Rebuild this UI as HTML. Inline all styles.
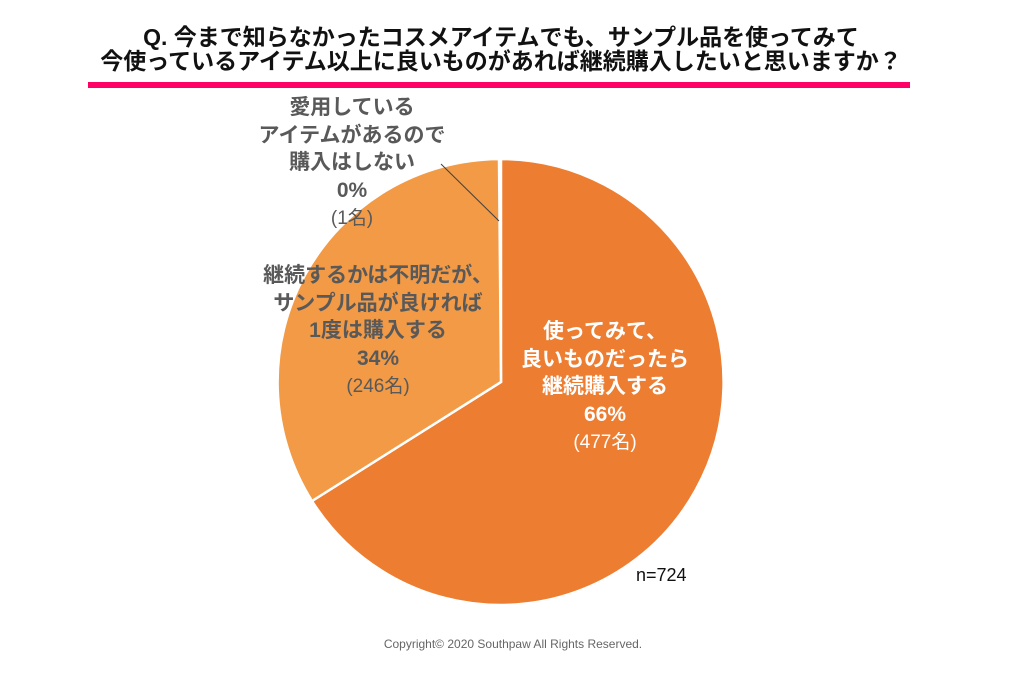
<!DOCTYPE html>
<html><head><meta charset="utf-8"><style>
body{margin:0;width:1013px;height:684px;background:#fff;overflow:hidden;font-family:"Liberation Sans","Noto Sans CJK JP",sans-serif;}
.t{position:absolute;left:0;width:1002px;text-align:center;font-weight:bold;font-size:23px;line-height:24px;color:#111;}
.l{position:absolute;text-align:center;font-weight:bold;font-size:21px;line-height:27.5px;color:#595959;white-space:nowrap;}
.s{font-weight:normal;font-size:19px;}
</style></head><body>
<div class="t" style="top:25px">Q. 今まで知らなかったコスメアイテムでも、サンプル品を使ってみて</div>
<div class="t" style="top:49px">今使っているアイテム以上に良いものがあれば継続購入したいと思いますか？</div>
<div style="position:absolute;left:88px;top:82px;width:822px;height:6px;background:#FF0066"></div>
<svg width="1013" height="684" style="position:absolute;left:0;top:0">
<path d="M501,382 L501,159 A223,223 0 1 1 312,501 Z" fill="#ED7D31" stroke="#fff" stroke-width="2.5"/>
<path d="M501,382 L312,501 A223,223 0 0 1 499,159 Z" fill="#F29A46" stroke="#fff" stroke-width="2.5"/>
<line x1="441" y1="164" x2="499" y2="221" stroke="#404040" stroke-width="1"/>
</svg>
<div class="l" style="left:202px;top:94px;width:300px">愛用している<br>アイテムがあるので<br>購入はしない<br>0%<br><span class="s">(1名)</span></div>
<div class="l" style="left:228px;top:262px;width:300px">継続するかは不明だが、<br>サンプル品が良ければ<br>1度は購入する<br>34%<br><span class="s">(246名)</span></div>
<div class="l" style="left:455px;top:318px;width:300px;color:#fff">使ってみて、<br>良いものだったら<br>継続購入する<br>66%<br><span class="s">(477名)</span></div>
<div style="position:absolute;left:636px;top:565px;font-size:18px;color:#111">n=724</div>
<div style="position:absolute;left:0;width:1026px;top:637px;text-align:center;font-size:12px;color:#666">Copyright© 2020 Southpaw All Rights Reserved.</div>
</body></html>
